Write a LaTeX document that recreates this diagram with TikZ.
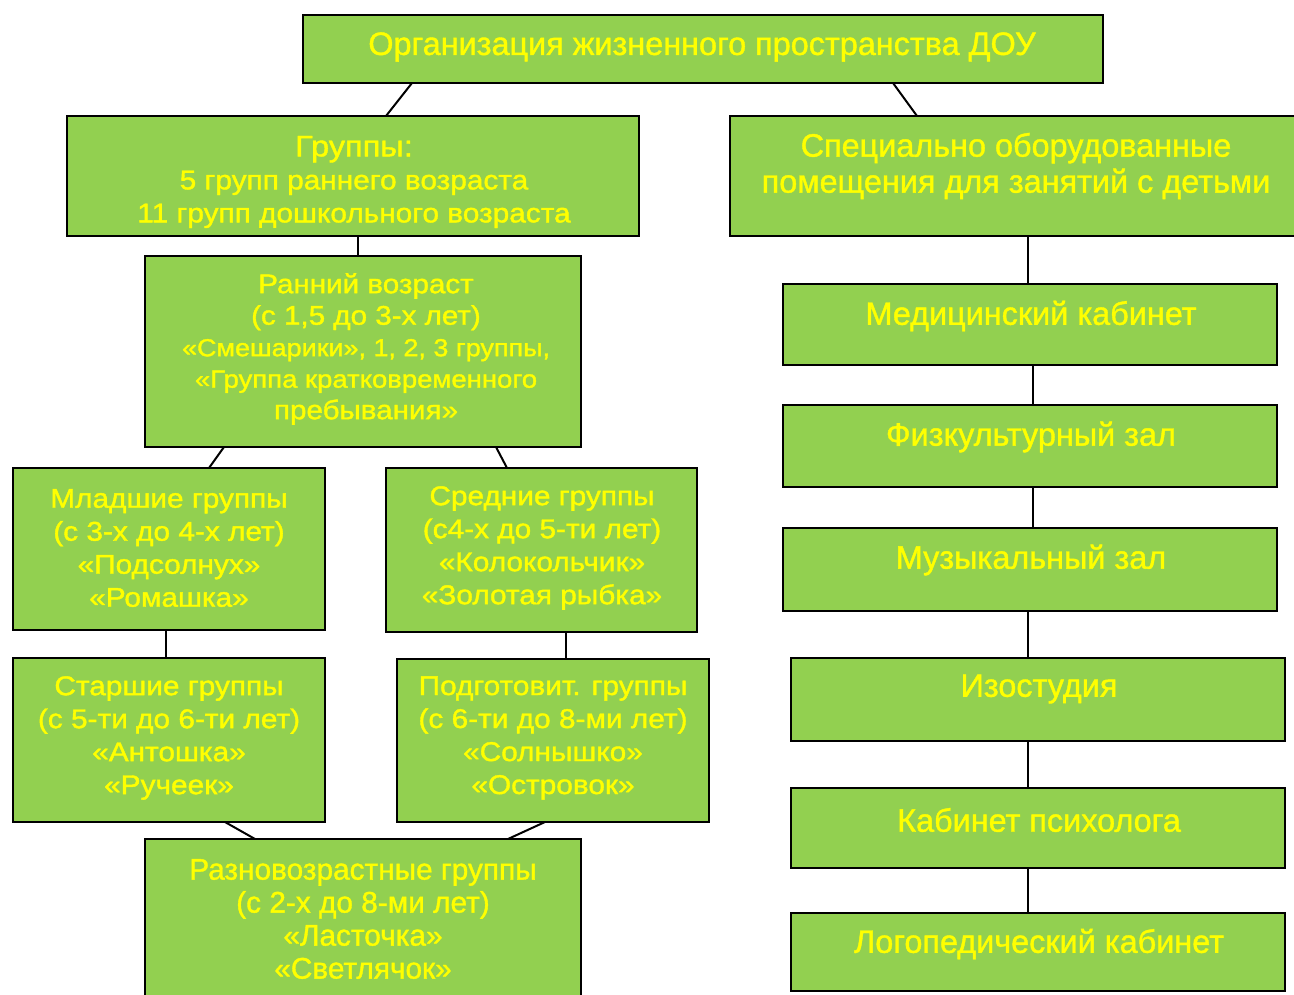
\documentclass[tikz,border=0pt]{standalone}
\usepackage{fontspec}
\setmainfont{Liberation Sans}
\newfontfamily\boxfont[FakeBold=1.2]{Liberation Sans}
\newfontfamily\widefont[FakeStretch=1.1,FakeBold=1.4]{Liberation Sans}
\definecolor{boxgreen}{HTML}{92D050}
\definecolor{txtyellow}{HTML}{FFFF00}
\tikzset{
  box/.style={draw=black, line width=2pt, fill=boxgreen, rectangle, inner sep=0pt, outer sep=0pt},
  txt/.style={text=txtyellow, align=center, inner sep=0pt},
  lft/.style={font=\boxfont\fontsize{29.8}{33}\selectfont},
  wid/.style={font=\widefont\fontsize{27.1}{33}\selectfont},
  rgt/.style={font=\boxfont\fontsize{32.4}{36}\selectfont},
  conn/.style={draw=black, line width=2pt}
}
\newcommand\mybox[5]{\node[box, anchor=north west, minimum width={(#4-#2)*1pt}, minimum height={(#5-#3)*1pt}] (#1) at (#2,#3) {};}
\begin{document}
\begin{tikzpicture}[x=1pt,y=-1pt]
\useasboundingbox (0,0) rectangle (1294,995);
% boxes
\mybox{top}{303}{15}{1103}{83}
\mybox{grp}{67}{116}{639}{236}
\mybox{spec}{730}{116}{1310}{236}
\mybox{ran}{145}{256}{581}{447}
\mybox{mlad}{13}{468}{325}{630}
\mybox{sred}{386}{468}{697}{632}
\mybox{star}{13}{658}{325}{822}
\mybox{podg}{397}{659}{709}{822}
\mybox{razn}{145}{839}{581}{1010}
\mybox{med}{783}{284}{1277}{365}
\mybox{fiz}{783}{405}{1277}{487}
\mybox{muz}{783}{528}{1277}{611}
\mybox{izo}{791}{658}{1285}{741}
\mybox{kab}{791}{788}{1285}{868}
\mybox{logo}{791}{913}{1285}{991}
% connectors
\draw[conn] ([xshift=109pt]top.south west) -- ([xshift=319pt]grp.north west);
\draw[conn] ([xshift=590pt]top.south west) -- ([xshift=187pt]spec.north west);
\draw[conn] ([xshift=291pt]grp.south west) -- ([xshift=213pt]ran.north west);
\draw[conn] ([xshift=79pt]ran.south west) -- ([xshift=196pt]mlad.north west);
\draw[conn] ([xshift=351pt]ran.south west) -- ([xshift=121pt]sred.north west);
\draw[conn] ([xshift=153pt]mlad.south west) -- ([xshift=153pt]star.north west);
\draw[conn] ([xshift=180pt]sred.south west) -- ([xshift=169pt]podg.north west);
\draw[conn] ([xshift=212pt]star.south west) -- ([xshift=110pt]razn.north west);
\draw[conn] ([xshift=148pt]podg.south west) -- ([xshift=363pt]razn.north west);
\draw[conn] ([xshift=298pt]spec.south west) -- ([xshift=245pt]med.north west);
\draw[conn] ([xshift=250pt]med.south west) -- ([xshift=250pt]fiz.north west);
\draw[conn] ([xshift=250pt]fiz.south west) -- ([xshift=250pt]muz.north west);
\draw[conn] ([xshift=245pt]muz.south west) -- ([xshift=237pt]izo.north west);
\draw[conn] ([xshift=237pt]izo.south west) -- ([xshift=237pt]kab.north west);
\draw[conn] ([xshift=237pt]kab.south west) -- ([xshift=237pt]logo.north west);
% texts
\node[txt, rgt] (ttop) at (702,47) {Организация жизненного пространства ДОУ};
\node[txt, wid] (tgrp) at (354,182) {{\fontsize{29.6}{33}\selectfont Группы:}\\5 групп раннего возраста\\11 групп дошкольного возраста};
\node[txt, rgt] (tspec) at (1016,166) {Специально оборудованные\\помещения для занятий с детьми};
\node[txt, wid, font=\widefont\fontsize{26.9}{31.5}\selectfont] (tran) at (366,349) {Ранний возраст\\(с 1,5 до 3-х лет)\\ {\fontsize{24.5}{31.5}\selectfont «Смешарики», 1, 2, 3 группы,}\\{\fontsize{25}{31.5}\selectfont «Группа кратковременного}\\пребывания»};
\node[txt, wid] (tmlad) at (169,548) {Младшие группы\\(с 3-х до 4-х лет)\\«Подсолнух»\\«Ромашка»};
\node[txt, wid] (tsred) at (542,548) {Средние группы\\(с4-х до 5-ти лет)\\ «Колокольчик»\\«Золотая рыбка»};
\node[txt, wid] (tstar) at (169,738) {Старшие группы\\(с 5-ти до 6-ти лет)\\«Антошка»\\«Ручеек»};
\node[txt, wid] (tpodg) at (553,738) {Подготовит. группы\\(с 6-ти до 8-ми лет)\\«Солнышко»\\«Островок»};
\node[txt, lft] (trazn) at (363,919) {Разновозрастные группы\\(с 2-х до 8-ми лет)\\«Ласточка»\\«Светлячок»};
\node[txt, rgt] (tmed) at (1031,316) {Медицинский кабинет};
\node[txt, rgt] (tfiz) at (1031,437) {Физкультурный зал};
\node[txt, rgt] (tmuz) at (1031,560) {Музыкальный зал};
\node[txt, rgt] (tizo) at (1039,689) {Изостудия};
\node[txt, rgt] (tkab) at (1039,820) {Кабинет психолога};
\node[txt, rgt] (tlogo) at (1039,944) {Логопедический кабинет};
\end{tikzpicture}
\end{document}
